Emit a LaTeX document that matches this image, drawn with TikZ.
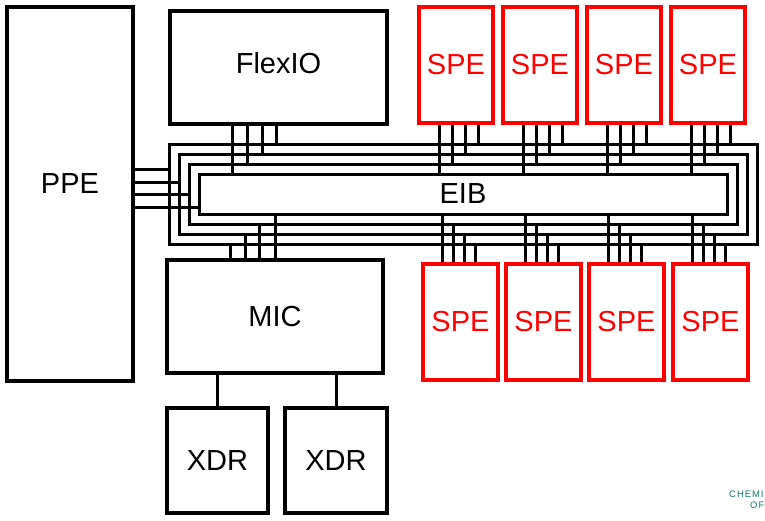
\documentclass[tikz,border=0pt]{standalone}
\usepackage{fontspec}
\setmainfont{Liberation Sans}
\newfontfamily\logofont[LetterSpace=10]{Liberation Sans}
\usepackage{xcolor}
\usepackage{tikz}
\definecolor{cellred}{RGB}{255,0,0}
\definecolor{cellblack}{RGB}{0,0,0}
\definecolor{logogreen}{RGB}{20,125,105}
\tikzset{
  unit/.style={draw=cellblack, line width=3.2pt, inner sep=0pt,
    font=\fontsize{29}{34}\selectfont},
  spe/.style={unit, draw=cellred, text=cellred, minimum width=74pt,
    minimum height=116pt},
  ring/.style={draw=cellblack, line width=3pt, inner sep=0pt},
  bus/.style={draw=cellblack, line width=3pt},
  logo/.style={text=logogreen, inner sep=0pt, font=\logofont\fontsize{9.5}{11}\selectfont}
}

\begin{document}
\begin{tikzpicture}[x=1pt,y=-1pt]
  \useasboundingbox (0,0) rectangle (765,520);
  \node[unit, minimum width=126pt, minimum height=374pt, text depth=20pt] (ppe) at (70,194) {PPE};
  \node[unit, minimum width=217pt, minimum height=113pt, text depth=10pt] (flexio) at (278.5,67.5) {FlexIO};
  \node[unit, minimum width=216pt, minimum height=113pt] (mic) at (275,316.5) {MIC};
  \node[unit, minimum width=101pt, minimum height=105pt] (xdrA) at (217.5,460.5) {XDR};
  \node[unit, minimum width=102pt, minimum height=105pt] (xdrB) at (336,460.5) {XDR};
  \node[spe] (speA) at (456,65) {SPE};
  \node[spe] (speB) at (540,65) {SPE};
  \node[spe] (speC) at (624,65) {SPE};
  \node[spe] (speD) at (708,65) {SPE};
  \node[spe, minimum width=75pt] (speE) at (460.5,322) {SPE};
  \node[spe, minimum width=75pt] (speF) at (543.5,322) {SPE};
  \node[spe, minimum width=75pt] (speG) at (626.5,322) {SPE};
  \node[spe, minimum width=75pt] (speH) at (710.5,322) {SPE};
  % EIB with its rings
  \node[ring, minimum width=588pt, minimum height=100pt] (ringA) at (463,194) {};
  \node[ring, minimum width=568pt, minimum height=80pt] (ringB) at (463,194) {};
  \node[ring, minimum width=548pt, minimum height=60pt] (ringC) at (463,194) {};
  \node[ring, minimum width=528pt, minimum height=40pt,
    font=\fontsize{29}{34}\selectfont] (eib) at (463,194) {EIB};
  % PPE
  \draw[bus] ([yshift=25pt]ppe.east) -- ([yshift=25pt]ppe.east -| ringA.west);
  \draw[bus] ([yshift=12pt]ppe.east) -- ([yshift=12pt]ppe.east -| ringB.west);
  \draw[bus] (ppe.east) -- (ppe.east -| ringC.west);
  \draw[bus] ([yshift=-13pt]ppe.east) -- ([yshift=-13pt]ppe.east -| eib.west);
  % FlexIO
  \draw[bus] ([xshift=-46pt]flexio.south) -- ([xshift=-46pt]flexio.south |- eib.north);
  \draw[bus] ([xshift=-31pt]flexio.south) -- ([xshift=-31pt]flexio.south |- ringC.north);
  \draw[bus] ([xshift=-16pt]flexio.south) -- ([xshift=-16pt]flexio.south |- ringB.north);
  \draw[bus] ([xshift=-2pt]flexio.south) -- ([xshift=-2pt]flexio.south |- ringA.north);
  % MIC
  \draw[bus] ([xshift=-45pt]mic.north) -- ([xshift=-45pt]mic.north |- ringA.south);
  \draw[bus] ([xshift=-30pt]mic.north) -- ([xshift=-30pt]mic.north |- ringB.south);
  \draw[bus] ([xshift=-16pt]mic.north) -- ([xshift=-16pt]mic.north |- ringC.south);
  \draw[bus] (mic.north) -- (mic.north |- eib.south);
  % SPEs
  \foreach \s in {speA,speB,speC,speD}{
    \draw[bus] ([xshift=-17pt]\s.south) -- ([xshift=-17pt]\s.south |- eib.north);
    \draw[bus] ([xshift=-4pt]\s.south) -- ([xshift=-4pt]\s.south |- ringC.north);
    \draw[bus] ([xshift=9pt]\s.south) -- ([xshift=9pt]\s.south |- ringB.north);
    \draw[bus] ([xshift=22pt]\s.south) -- ([xshift=22pt]\s.south |- ringA.north);
  }
  \foreach \s in {speE,speF,speG,speH}{
    \draw[bus] ([xshift=-18pt]\s.north) -- ([xshift=-18pt]\s.north |- eib.south);
    \draw[bus] ([xshift=-7pt]\s.north) -- ([xshift=-7pt]\s.north |- ringC.south);
    \draw[bus] ([xshift=4pt]\s.north) -- ([xshift=4pt]\s.north |- ringB.south);
    \draw[bus] ([xshift=15pt]\s.north) -- ([xshift=15pt]\s.north |- ringA.south);
  }
  % XDR
  \draw[bus] (xdrA.north) -- (xdrA.north |- mic.south);
  \draw[bus] (xdrB.north) -- (xdrB.north |- mic.south);
  \node[logo, anchor=base west] (logoA) at (729,497) {CHEMI};
  \node[logo, anchor=base west] (logoB) at (750,508) {OF};
\end{tikzpicture}
\end{document}
